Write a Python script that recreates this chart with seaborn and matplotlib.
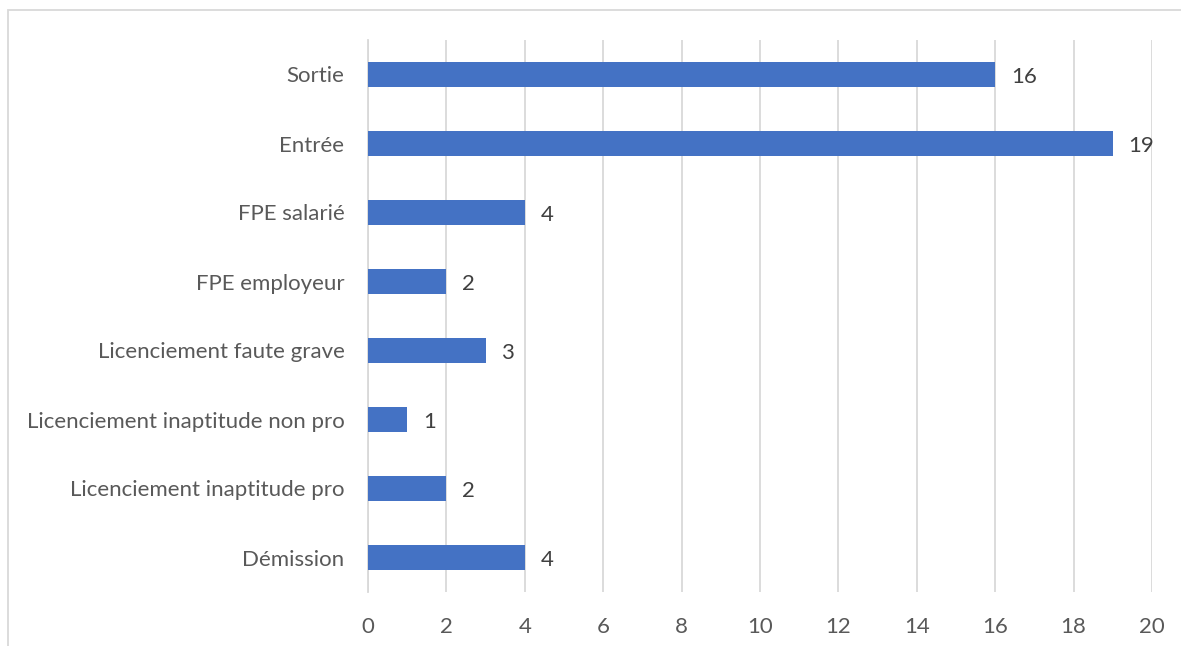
import pandas as pd
import matplotlib
matplotlib.use('Agg')
import matplotlib.pyplot as plt
from matplotlib.patches import Rectangle
import seaborn as sns

categories = ['Sortie', 'Entrée', 'FPE salarié', 'FPE employeur',
              'Licenciement faute grave', 'Licenciement inaptitude non pro',
              'Licenciement inaptitude pro', 'Démission']
values = [16, 19, 4, 2, 3, 1, 2, 4]
x_ticks = [0, 2, 4, 6, 8, 10, 12, 14, 16, 18, 20]

df = pd.DataFrame({'cat': categories, 'val': values})

sns.set_style('white')
plt.rcParams['font.family'] = ['Lato', 'DejaVu Sans']

fig = plt.figure(figsize=(11.81, 6.46), dpi=100)
ax = fig.add_axes([368 / 1181, 1 - 592 / 646, (1152 - 368) / 1181, (592 - 40) / 646])

sns.barplot(data=df, x='val', y='cat', color='#4472C4', width=0.35,
            saturation=1, linewidth=0, ax=ax, zorder=3)

ax.set_xlim(0, 20)
ax.set_ylim(7.5, -0.5)
ax.set_xticks(x_ticks)
ax.set_xlabel('')
ax.set_ylabel('')
ax.grid(axis='x', color='#D9D9D9', linewidth=1.3, zorder=0)
ax.grid(axis='y', visible=False)
for s in ['top', 'right', 'bottom']:
    ax.spines[s].set_visible(False)
ax.spines['left'].set_color('#D9D9D9')
ax.spines['left'].set_linewidth(1.3)
ax.tick_params(axis='both', length=0, labelsize=16, colors='#595959')
ax.tick_params(axis='x', pad=18)
ax.tick_params(axis='y', pad=17)

for i, v in enumerate(values):
    ax.text(v + 0.4, i + 0.03, str(v), va='center', ha='left', fontsize=16, color='#404040')

# chart frame
fig.patches.append(Rectangle((8 / 1181, -0.1), 1.2, 1 - 10 / 646 + 0.1,
                             transform=fig.transFigure, fill=False,
                             edgecolor='#D9D9D9', linewidth=1.3))

fig.savefig('out.png', dpi=100)
